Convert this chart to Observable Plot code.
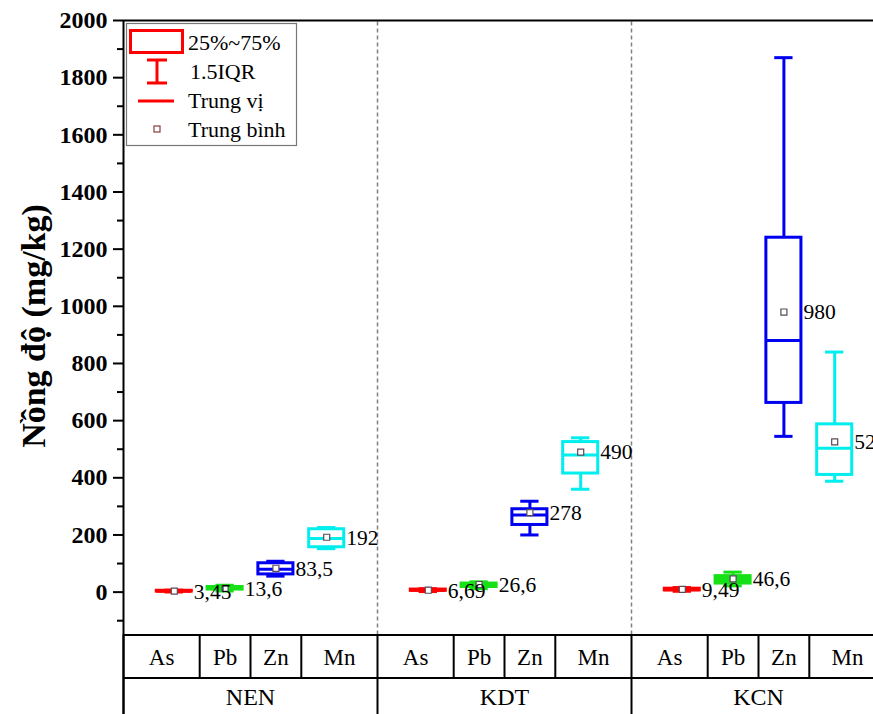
<!DOCTYPE html>
<html><head><meta charset="utf-8">
<script src="https://cdn.jsdelivr.net/npm/d3@7"></script>
<script src="https://cdn.jsdelivr.net/npm/@observablehq/plot@0.6"></script>
<style>
html,body{margin:0;padding:0;background:#fff;overflow:hidden;}
#wrap{position:relative;width:873px;height:714px;overflow:hidden;}
#wrap svg{position:absolute;left:0;top:0;}
</style></head><body><div id="wrap"></div>
<script>
// ---- data ----
const sites = ["NEN", "KDT", "KCN"];
const metals = ["As", "Pb", "Zn", "Mn"];
const metalColors = ["#ff0000", "#16e016", "#0000f0", "#00eeee"];
// order: NEN As,Pb,Zn,Mn | KDT As,Pb,Zn,Mn | KCN As,Pb,Zn,Mn
const whiskerLow  = [0.5, 4, 56, 152,   2, 12, 200, 360,   3, 22, 545, 388];
const q1          = [2, 9, 62, 157,     4.5, 18, 235, 415, 6, 30, 662, 410];
const median      = [3.2, 13, 80, 188,  6.5, 25, 270, 480, 8.5, 44, 880, 503];
const q3          = [4.8, 18, 101, 220, 9, 30, 290, 525,   12, 56, 1240, 587];
const whiskerHigh = [7, 24, 108, 226,   12, 36, 318, 540,  16, 70, 1870, 840];
const means       = [3.45, 13.6, 83.5, 192, 6.69, 26.6, 278, 490, 9.49, 46.6, 980, 526];
const meanLabels  = ["3,45", "13,6", "83,5", "192", "6,69", "26,6", "278", "490", "9,49", "46,6", "980", "526"];
const yTicks = [0, 200, 400, 600, 800, 1000, 1200, 1400, 1600, 1800, 2000];
const yMinorTicks = [-100, 100, 300, 500, 700, 900, 1100, 1300, 1500, 1700, 1900];
const yLabel = "Nồng độ (mg/kg)";
const legendLabels = ["25%~75%", "1.5IQR", "Trung vị", "Trung bình"];

// ---- layout ----
const W = 885, H = 714, mTop = 20, mLeft = 123, mBottom = 79.5;
const yDom = [-150, 2000];
const plotH = H - mTop - mBottom;
const unitsPerPx = (yDom[1] - yDom[0]) / plotH;
const below = px => yDom[0] - px * unitsPerPx; // y value px pixels below the frame
const row1 = 43, rowEnd = mBottom;
const half = 0.345, capHalf = 0.18;
const groupSpan = 5;

const boxes = [];
sites.forEach((s, gi) => metals.forEach((m, mi) => {
  const i = gi * 4 + mi;
  boxes.push({site: s, metal: m, color: metalColors[mi], pos: gi * groupSpan + mi + 1,
    lo: whiskerLow[i], q1: q1[i], med: median[i], q3: q3[i], hi: whiskerHigh[i],
    mean: means[i], label: meanLabels[i]});
}));

// table
const cellEdges = [1.5, 2.5, 3.5];
const cellCenters = [0.75, 2, 3, 4.25];
const tableCells = [], tableLines = [], groupLines = [];
sites.forEach((s, gi) => {
  metals.forEach((m, mi) => tableCells.push({x: gi * groupSpan + cellCenters[mi], label: m}));
  cellEdges.forEach(e => tableLines.push(gi * groupSpan + e));
});
for (let g = 0; g <= sites.length; g++) groupLines.push(g * groupSpan);
const groupCells = sites.map((s, gi) => ({x: gi * groupSpan + groupSpan / 2, label: s}));

const font = "'Liberation Serif','Times New Roman',serif";

const chart = Plot.plot({
  width: W, height: H,
  marginTop: mTop, marginLeft: mLeft, marginRight: 0, marginBottom: mBottom,
  style: {fontFamily: font, maxWidth: "none", background: "white", overflow: "visible"},
  x: {domain: [0, 15], axis: null},
  y: {domain: yDom, axis: null},
  marks: [
    Plot.ruleX([5, 10], {y1: yDom[0], y2: yDom[1], stroke: "#808080", strokeWidth: 1.5, strokeDasharray: "4,3"}),
    Plot.ruleX(boxes, {x: "pos", y1: "lo", y2: "q1", stroke: "color", strokeWidth: 3}),
    Plot.ruleX(boxes, {x: "pos", y1: "q3", y2: "hi", stroke: "color", strokeWidth: 3}),
    Plot.ruleY(boxes, {y: "lo", x1: d => d.pos - capHalf, x2: d => d.pos + capHalf, stroke: "color", strokeWidth: 3}),
    Plot.ruleY(boxes, {y: "hi", x1: d => d.pos - capHalf, x2: d => d.pos + capHalf, stroke: "color", strokeWidth: 3}),
    Plot.rect(boxes, {x1: d => d.pos - half, x2: d => d.pos + half, y1: "q1", y2: "q3",
      fill: d => d.metal === "Pb" ? d.color : "white", stroke: "color", strokeWidth: 3}),
    Plot.ruleY(boxes, {y: "med", x1: d => d.pos - half, x2: d => d.pos + half, stroke: "color", strokeWidth: 3}),
    Plot.dot(boxes, {x: "pos", y: "mean", symbol: "square", r: 3.4, stroke: "#5a4a5a", strokeWidth: 1.2, fill: "white"}),
    Plot.text(boxes, {x: d => d.pos + half, y: "mean", text: "label", textAnchor: "start", dx: 2, dy: 0.5,
      fontSize: 21.5, fill: "black", fontFamily: font}),
    Plot.ruleY([yDom[1]], {x1: 0, x2: 15, stroke: "black", strokeWidth: 2}),
    Plot.ruleX([0], {y1: yDom[1], y2: below(rowEnd + 5), stroke: "black", strokeWidth: 2}),
    Plot.axisY(yTicks, {tickSize: 10, tickPadding: 6, fontSize: 24, fontWeight: "bold", strokeWidth: 2,
      fontFamily: font, fill: "black", stroke: "black", label: null, tickFormat: d => String(d)}),
    Plot.axisY(yMinorTicks, {tickSize: 6, tickFormat: () => "", strokeWidth: 2, stroke: "black", label: null}),
    // table
    Plot.ruleY([yDom[0], below(row1)], {x1: 0, x2: 15, stroke: "black", strokeWidth: 2}),
    Plot.ruleX(tableLines, {y1: yDom[0], y2: below(row1), stroke: "black", strokeWidth: 2}),
    Plot.ruleX(groupLines, {y1: yDom[0], y2: below(rowEnd + 5), stroke: "black", strokeWidth: 2}),
    Plot.text(tableCells, {x: "x", y: below(row1 / 2), text: "label", fontSize: 23, fontFamily: font, fill: "black", dy: 1}),
    Plot.text(groupCells, {x: "x", y: below((row1 + rowEnd) / 2), text: "label", fontSize: 24, fontFamily: font, fill: "black", dy: 1})
  ]
});
const wrap = document.getElementById("wrap");
wrap.appendChild(chart);

// overlay: y title and legend
const lg = d3.select(wrap).append("svg").attr("width", 873).attr("height", 714)
  .style("font-family", font).style("pointer-events", "none");
lg.append("text").attr("transform", "translate(33,326) rotate(-90)").attr("text-anchor", "middle")
  .attr("dy", "0.35em").attr("font-size", 34).attr("font-weight", "bold").attr("fill", "black").text(yLabel);
lg.append("rect").attr("x", 126.5).attr("y", 23.5).attr("width", 170).attr("height", 122)
  .attr("fill", "white").attr("stroke", "#777").attr("stroke-width", 1.2);
lg.append("rect").attr("x", 130.5).attr("y", 30.5).attr("width", 52).attr("height", 22)
  .attr("fill", "white").attr("stroke", "red").attr("stroke-width", 3);
lg.append("line").attr("x1", 147).attr("x2", 167).attr("y1", 60).attr("y2", 60).attr("stroke", "red").attr("stroke-width", 3);
lg.append("line").attr("x1", 157).attr("x2", 157).attr("y1", 60).attr("y2", 83).attr("stroke", "red").attr("stroke-width", 3);
lg.append("line").attr("x1", 147).attr("x2", 167).attr("y1", 83).attr("y2", 83).attr("stroke", "red").attr("stroke-width", 3);
lg.append("line").attr("x1", 138).attr("x2", 174).attr("y1", 101).attr("y2", 101).attr("stroke", "red").attr("stroke-width", 3);
lg.append("rect").attr("x", 154).attr("y", 126).attr("width", 6).attr("height", 6)
  .attr("fill", "white").attr("stroke", "#8a3a3a").attr("stroke-width", 1.2);
const ly = [42, 71, 100, 129];
legendLabels.forEach((t, i) => {
  lg.append("text").attr("x", i === 1 ? 190 : 188).attr("y", ly[i]).attr("dy", "0.35em")
    .attr("font-size", 22).attr("fill", "black").text(t);
});
</script></body></html>
